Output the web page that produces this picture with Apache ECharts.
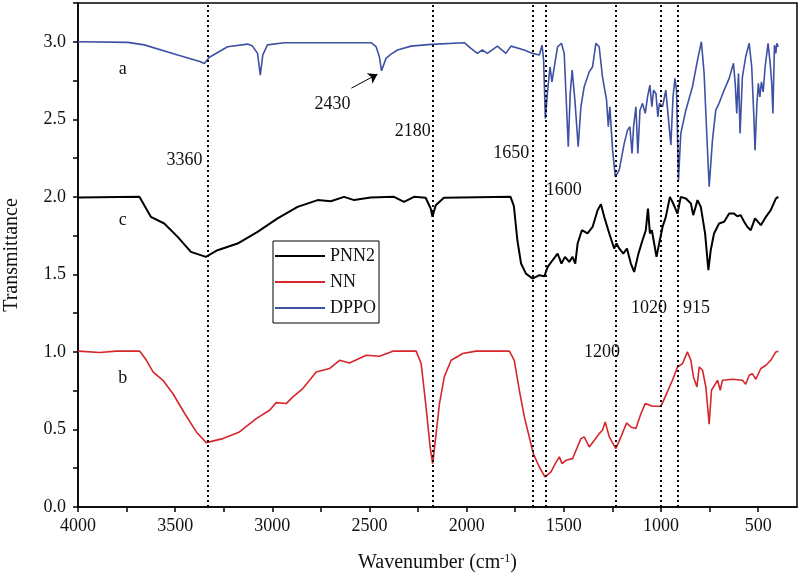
<!DOCTYPE html>
<html>
<head>
<meta charset="utf-8">
<title>FTIR</title>
<script src="https://cdn.jsdelivr.net/npm/echarts@6/dist/echarts.min.js"></script>
<style>
html, body { margin: 0; padding: 0; background: #fff; }
#chart { width: 800px; height: 575px; }
</style>
</head>
<body>
<div id="chart"></div>
<script>
// spectra: [wavenumber, transmittance]
const dppo = [[4000,3.0],[3744,2.996],[3659,2.98],[3487,2.915],[3369,2.871],[3350,2.86],[3324,2.90],[3230,2.968],[3127,2.985],[3102,2.972],[3076,2.925],[3062,2.785],[3049,2.915],[3025,2.98],[2939,2.994],[2492,2.994],[2466,2.968],[2449,2.903],[2438,2.813],[2415,2.893],[2389,2.92],[2356,2.947],[2286,2.972],[2183,2.983],[2012,2.994],[1978,2.957],[1945,2.925],[1919,2.947],[1893,2.925],[1842,2.972],[1798,2.925],[1772,2.972],[1704,2.947],[1661,2.925],[1626,2.915],[1612,2.978],[1604,2.882],[1595,2.506],[1583,2.688],[1571,2.839],[1561,2.742],[1553,2.806],[1532,2.968],[1512,2.99],[1498,2.925],[1477,2.323],[1467,2.667],[1457,2.817],[1443,2.624],[1426,2.323],[1412,2.581],[1395,2.71],[1369,2.806],[1352,2.839],[1335,2.99],[1318,2.968],[1301,2.774],[1280,2.624],[1271,2.452],[1263,2.581],[1249,2.301],[1235,2.129],[1215,2.172],[1189,2.345],[1172,2.43],[1160,2.452],[1149,2.28],[1141,2.452],[1129,2.581],[1119,2.28],[1108,2.559],[1095,2.603],[1081,2.538],[1069,2.645],[1057,2.721],[1047,2.581],[1038,2.688],[1026,2.667],[1016,2.516],[1008,2.603],[992,2.581],[975,2.688],[961,2.495],[949,2.334],[938,2.645],[928,2.764],[920,2.688],[910,2.108],[898,2.409],[872,2.559],[838,2.71],[812,2.882],[792,3.0],[778,2.796],[766,2.452],[752,2.065],[735,2.366],[718,2.559],[701,2.603],[675,2.688],[649,2.764],[627,2.861],[618,2.732],[610,2.538],[601,2.796],[593,2.409],[581,2.774],[564,2.903],[546,2.99],[533,2.839],[522,2.516],[516,2.301],[507,2.581],[499,2.732],[491,2.645],[483,2.742],[474,2.677],[464,2.839],[449,2.99],[438,2.861],[430,2.732],[424,2.538],[416,2.978],[409,2.925],[404,2.99],[396,2.968]]

const pnn2 = [[4000,1.996],[3684,2.0],[3659,1.946],[3625,1.871],[3556,1.828],[3487,1.742],[3419,1.645],[3342,1.613],[3282,1.656],[3179,1.699],[3076,1.774],[2973,1.861],[2870,1.935],[2767,1.979],[2699,1.972],[2631,2.0],[2579,1.979],[2494,1.996],[2374,2.0],[2322,1.968],[2271,2.0],[2211,1.994],[2185,1.925],[2176,1.871],[2159,1.946],[2117,1.994],[1774,2.0],[1757,1.94],[1739,1.72],[1720,1.57],[1695,1.505],[1661,1.473],[1626,1.495],[1600,1.488],[1583,1.548],[1558,1.591],[1532,1.634],[1512,1.57],[1494,1.613],[1472,1.581],[1455,1.613],[1441,1.57],[1429,1.699],[1407,1.785],[1378,1.764],[1352,1.806],[1326,1.914],[1309,1.953],[1292,1.871],[1266,1.764],[1241,1.667],[1229,1.699],[1215,1.667],[1194,1.634],[1175,1.667],[1155,1.57],[1138,1.516],[1116,1.634],[1095,1.72],[1078,1.785],[1067,1.925],[1057,1.764],[1047,1.785],[1035,1.699],[1023,1.613],[1013,1.677],[992,1.806],[975,1.871],[954,2.0],[937,1.957],[915,1.892],[898,2.0],[872,1.989],[846,1.957],[834,1.882],[812,1.979],[795,1.935],[773,1.764],[756,1.527],[744,1.656],[727,1.764],[701,1.828],[675,1.839],[649,1.892],[624,1.892],[607,1.875],[590,1.882],[572,1.839],[555,1.806],[538,1.785],[516,1.861],[486,1.817],[460,1.871],[435,1.914],[409,1.989],[396,2.0]]

const nn = [[4000,1.005],[3888,0.996],[3803,1.005],[3683,1.006],[3648,0.946],[3614,0.871],[3563,0.817],[3512,0.732],[3451,0.603],[3391,0.484],[3340,0.415],[3254,0.441],[3169,0.484],[3083,0.57],[3014,0.624],[2980,0.673],[2929,0.667],[2894,0.71],[2843,0.764],[2774,0.871],[2706,0.893],[2654,0.946],[2603,0.929],[2517,0.979],[2449,0.972],[2380,1.005],[2260,1.005],[2234,0.925],[2209,0.645],[2188,0.387],[2175,0.28],[2161,0.43],[2140,0.667],[2115,0.839],[2080,0.946],[2020,0.99],[1952,1.005],[1780,1.005],[1755,0.946],[1729,0.753],[1703,0.581],[1678,0.452],[1657,0.344],[1626,0.258],[1597,0.194],[1566,0.226],[1544,0.28],[1523,0.323],[1509,0.28],[1489,0.301],[1455,0.312],[1437,0.366],[1412,0.441],[1395,0.452],[1369,0.387],[1343,0.43],[1318,0.473],[1301,0.495],[1287,0.548],[1266,0.452],[1232,0.377],[1206,0.452],[1177,0.542],[1155,0.516],[1129,0.506],[1103,0.603],[1081,0.667],[1044,0.65],[1000,0.65],[975,0.72],[941,0.817],[915,0.903],[889,0.925],[864,1.0],[846,0.946],[833,0.839],[815,0.774],[803,0.903],[786,0.882],[769,0.774],[752,0.534],[740,0.753],[709,0.817],[695,0.753],[684,0.817],[632,0.824],[581,0.817],[564,0.792],[546,0.85],[530,0.86],[512,0.824],[486,0.893],[460,0.914],[435,0.946],[409,1.0],[396,1.005]]

// dotted marker lines (wavenumber where they are drawn)
const peakLines = [3333, 2175, 1662, 1595, 1232, 1000, 913]

// text notes: [wavenumber, y, text]
const notes = [
  [3770, 2.82, 'a'],
  [3770, 1.85, 'c'],
  [3770, 0.83, 'b'],
  [3452, 2.236, '3360'],
  [2690, 2.598, '2430'],
  [2278, 2.424, '2180'],
  [1770, 2.28, '1650'],
  [1500, 2.043, '1600'],
  [1303, 0.997, '1200'],
  [1062, 1.28, '1020'],
  [817, 1.28, '915']
]
const arrow = [[2593, 2.701], [2459, 2.791]]

const xLabels = [4000, 3500, 3000, 2500, 2000, 1500, 1000, 500]
const xTicks = [4000, 3750, 3500, 3250, 3000, 2750, 2500, 2250, 2000, 1750, 1500, 1250, 1000, 750, 500]
const yLabels = [0, 0.5, 1.0, 1.5, 2.0, 2.5, 3.0]
const yTicks = [0, 0.25, 0.5, 0.75, 1.0, 1.25, 1.5, 1.75, 2.0, 2.25, 2.5, 2.75, 3.0, 3.25]

const font = 'Liberation Serif, Times New Roman, serif'
const myChart = echarts.init(document.getElementById('chart'))

const option = {
  animation: false,
  grid: {
    left: 78, top: 3, right: 3, bottom: 68,
    outerBoundsMode: 'none',
    containLabel: false,
    show: true, borderColor: '#000', borderWidth: 1.5
  },
  legend: {
    data: ['PNN2', 'NN', 'DPPO'],
    orient: 'vertical',
    left: 273, top: 241,
    icon: 'rect',
    itemWidth: 50, itemHeight: 2, itemGap: 8,
    padding: [6, 3, 6, 2],
    borderColor: '#000', borderWidth: 1,
    backgroundColor: '#fff',
    textStyle: { fontFamily: font, fontSize: 18, color: '#111' }
  },
  xAxis: {
    type: 'value',
    inverse: true,
    min: 300, max: 4000,
    name: 'Wavenumber (cm{s|-1})',
    nameLocation: 'middle',
    nameGap: 46,
    nameTextStyle: {
      fontFamily: font, fontSize: 20, color: '#111',
      rich: { s: { fontFamily: font, fontSize: 12, verticalAlign: 'top', color: '#111' } }
    },
    axisLine: { lineStyle: { color: '#000', width: 1.5 } },
    axisTick: { inside: false, length: 5, lineStyle: { color: '#000', width: 1.5 }, customValues: xTicks },
    axisLabel: { fontFamily: font, fontSize: 18, color: '#111', margin: 10, customValues: xLabels, formatter: v => String(v) },
    splitLine: { show: false }
  },
  yAxis: {
    type: 'value',
    min: 0, max: 3.25,
    name: 'Transmittance',
    nameLocation: 'middle',
    nameGap: 56,
    nameTextStyle: { fontFamily: font, fontSize: 20, color: '#111' },
    axisLine: { show: true, lineStyle: { color: '#000', width: 1.5 } },
    axisTick: { show: true, inside: false, length: 5, lineStyle: { color: '#000', width: 1.5 }, customValues: yTicks },
    axisLabel: {
      fontFamily: font, fontSize: 18, color: '#111', margin: 12,
      customValues: yLabels,
      formatter: v => v.toFixed(1)
    },
    splitLine: { show: false }
  },
  series: [
    {
      name: 'PNN2', type: 'line', data: pnn2, symbol: 'none',
      lineStyle: { color: '#000', width: 2 }, itemStyle: { color: '#000' },
      z: 3
    },
    {
      name: 'NN', type: 'line', data: nn, symbol: 'none',
      lineStyle: { color: '#d7262b', width: 1.6 }, itemStyle: { color: '#d7262b' },
      z: 3
    },
    {
      name: 'DPPO', type: 'line', data: dppo, symbol: 'none',
      lineStyle: { color: '#3f51a3', width: 1.6 }, itemStyle: { color: '#3f51a3' },
      z: 3,
      markLine: {
        silent: true,
        symbol: 'none',
        label: { show: false },
        lineStyle: { color: '#000', type: [2, 3], width: 2 },
        data: peakLines.map(v => ({ xAxis: v }))
      }
    },
    {
      name: 'notes', type: 'scatter', silent: true,
      symbolSize: 1,
      itemStyle: { color: 'rgba(0,0,0,0)', opacity: 1 },
      label: { show: true, position: 'inside', fontFamily: font, fontSize: 18, color: '#111', formatter: p => p.data.text },
      data: notes.map(n => ({ value: [n[0], n[1]], text: n[2] })),
      markLine: {
        silent: true,
        symbol: ['none', 'arrow'],
        symbolSize: 9,
        label: { show: false },
        lineStyle: { color: '#000', type: 'solid', width: 1, opacity: 1 },
        data: [[{ coord: arrow[0] }, { coord: arrow[1] }]]
      },
      z: 5
    }
  ]
}
myChart.setOption(option)
</script>
</body>
</html>
